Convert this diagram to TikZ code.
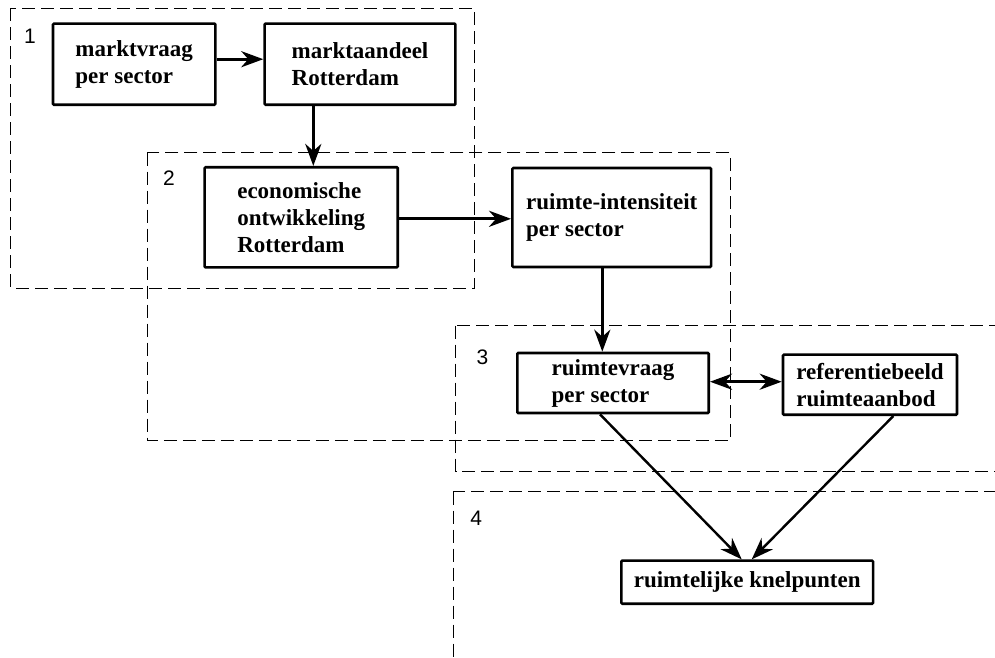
\documentclass[tikz,border=0pt]{standalone}
\usepackage{fontspec}
\setmainfont{Liberation Serif}
\newfontfamily\labelfont{Liberation Sans}
\usetikzlibrary{arrows.meta}

\begin{document}
\begin{tikzpicture}[x=1pt,y=-1pt,
  stagebox/.style={draw, line width=2.6pt, rounded corners=1pt, fill=white,
    align=left, inner sep=0pt,
    font=\fontsize{23}{27}\selectfont\bfseries},
  zone/.style={line width=1pt, dash pattern=on 13pt off 6pt},
  numlabel/.style={inner sep=0pt, font=\labelfont\fontsize{21}{25}\selectfont},
  flow/.style={line width=3.2pt, -{Stealth[length=22pt,width=16pt,inset=7pt]}},
  bothflow/.style={line width=3.2pt,
    {Stealth[length=22pt,width=16pt,inset=7pt]}-{Stealth[length=22pt,width=16pt,inset=7pt]}},
  thinflow/.style={line width=2.4pt, -{Stealth[length=22pt,width=16pt,inset=7pt]}}
]
\useasboundingbox (0,0) rectangle (995,657);

% dashed stage zones
\begin{scope}
  \clip (0,0) rectangle (995,657);
  \draw[zone] (10.7,8.3) rectangle (474.5,288);
  \draw[zone] (147.3,152.5) rectangle (730.3,440);
  \draw[zone] (455.5,325.5) rectangle (1020,471);
  \draw[zone] (453.3,491.5) rectangle (1020,700);
\end{scope}

% zone numbers
\node[numlabel] (n1) at (30,36) {1};
\node[numlabel] (n2) at (169,178.3) {2};
\node[numlabel] (n3) at (482.5,357) {3};
\node[numlabel] (n4) at (476.3,518.3) {4};

% stages
\node[stagebox, minimum width=162.4pt, minimum height=81.1pt] (a) at (134.2,64.2)
  {marktvraag\\per sector};
\node[stagebox, minimum width=190.8pt, minimum height=81.1pt] (b) at (360,64.2)
  {marktaandeel\\Rotterdam};
\node[stagebox, minimum width=193.1pt, minimum height=100.1pt] (c) at (301.2,217.3)
  {economische\\ontwikkeling\\Rotterdam};
\node[stagebox, minimum width=198.7pt, minimum height=99pt] (d) at (611.7,217.5)
  {ruimte-intensiteit\\per sector};
\node[stagebox, minimum width=191.4pt, minimum height=60pt] (e) at (613,383)
  {ruimtevraag\\per sector};
\node[stagebox, minimum width=174pt, minimum height=60.1pt] (f) at (870,384.7)
  {referentiebeeld\\ruimteaanbod};
\node[stagebox, minimum width=251.7pt, minimum height=43.1pt] (g) at (747.2,582.2)
  {ruimtelijke knelpunten};

% connectors
\draw[flow] ([yshift=5pt]a.east) -- ([yshift=5pt]a.east -| b.west);
\draw[flow] ([xshift=-46.7pt]b.south) -- ([xshift=-46.7pt]b.south |- c.north);
\draw[flow] ([yshift=-1.5pt]c.east) -- ([yshift=-1.5pt]c.east -| d.west);
\draw[flow] ([xshift=-9.4pt]d.south) -- ([xshift=-9.4pt]d.south |- e.north);
\draw[bothflow] ([yshift=1.3pt]e.east) -- ([yshift=1.3pt]e.east -| f.west);
\draw[thinflow] ([xshift=-13pt]e.south) -- ([xshift=-5.5pt]g.north);
\draw[thinflow] ([xshift=23.3pt]f.south) -- ([xshift=4.5pt]g.north);
\end{tikzpicture}
\end{document}
